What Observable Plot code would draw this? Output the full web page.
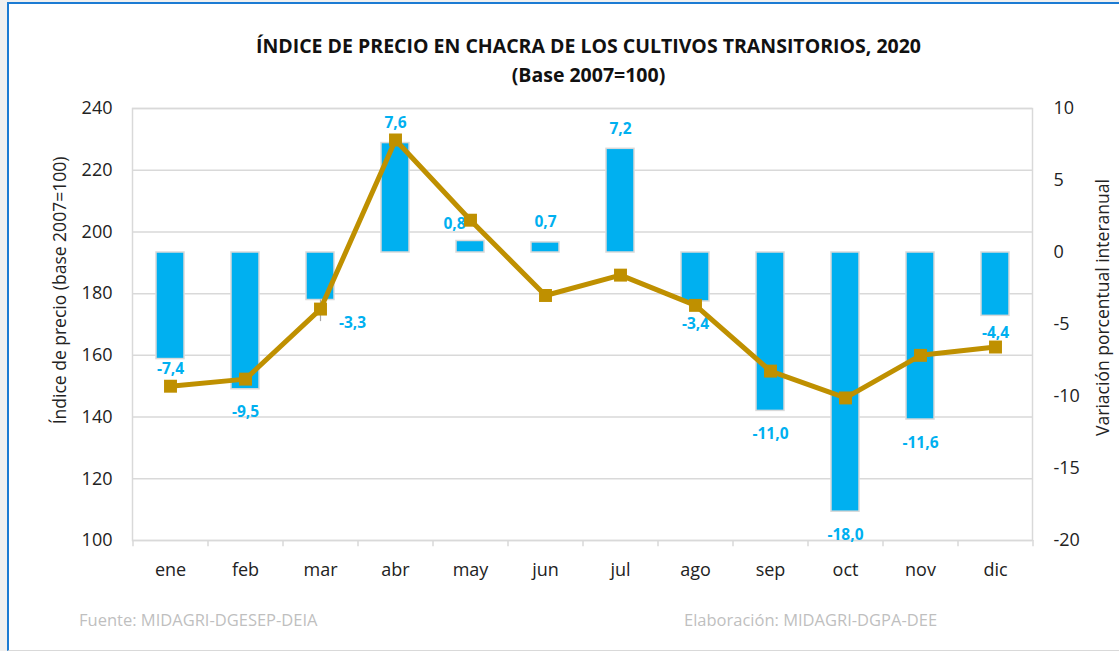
<!DOCTYPE html>
<html>
<head>
<meta charset="utf-8">
<script src="https://cdn.jsdelivr.net/npm/d3@7"></script>
<script src="https://cdn.jsdelivr.net/npm/@observablehq/plot@0.6"></script>
<style>
  html, body { margin: 0; padding: 0; background: #f0f0f0; width: 1119px; height: 651px; overflow: hidden; font-family: "Open Sans", "Noto Sans", sans-serif; }
  #frame { position: absolute; left: 7px; top: 2px; width: 1110px; height: 646px; background: #fff;
           border-top: 2px solid #1c7bd3; border-left: 2px solid #1c7bd3; border-bottom: 1px solid #d9d9d9; }
  #title { position: absolute; left: 0; width: 1177px; top: 31px; text-align: center; font-weight: 700; font-size: 19.5px; line-height: 29px; color: #111; }
  #chart { position: absolute; left: 0; top: 90px; }
  .foot { position: absolute; top: 608px; font-size: 16.5px; color: #bfbfbf; }
</style>
</head>
<body>
<div id="frame"></div>
<div id="title">ÍNDICE DE PRECIO EN CHACRA DE LOS CULTIVOS TRANSITORIOS, 2020<br>(Base 2007=100)</div>
<div id="chart"></div>
<div class="foot" style="left:79px">Fuente: MIDAGRI-DGESEP-DEIA</div>
<div class="foot" style="left:684px">Elaboración: MIDAGRI-DGPA-DEE</div>
<script>
const months = ["ene","feb","mar","abr","may","jun","jul","ago","sep","oct","nov","dic"];
const indice = [150.0, 152.3, 175.0, 229.8, 203.8, 179.4, 186.0, 176.2, 154.9, 146.2, 160.0, 162.7];
const variacion = [-7.4, -9.5, -3.3, 7.6, 0.8, 0.7, 7.2, -3.4, -11.0, -18.0, -11.6, -4.4];
const leftTicks = [100, 120, 140, 160, 180, 200, 220, 240];
const rightTicks = [-20, -15, -10, -5, 0, 5, 10];
const leftTitle = "Índice de precio (base 2007=100)";
const rightTitle = "Variación porcentual interanual";

// map right-axis values (variation) onto the left-axis domain
const L0 = 100, L1 = 240, R0 = -20, R1 = 10;
const conv = v => L0 + (v - R0) * (L1 - L0) / (R1 - R0);
const inv = y => (Math.round((y - L0) * (R1 - R0) / (L1 - L0) + R0) || 0);

const data = months.map((m, i) => ({month: m, indice: indice[i], variacion: variacion[i]}));
const fmt = v => v.toFixed(1).replace(".", ",");
const special = ["ene", "mar", "may", "dic"];
const pos = data.filter(d => d.variacion >= 0 && !special.includes(d.month));
const neg = data.filter(d => d.variacion < 0 && !special.includes(d.month));
const pick = m => data.filter(d => d.month === m);

const blue = "#00B0F0", gold = "#BF9000", grid = "#d9d9d9";
const fam = '"Open Sans", "Noto Sans", sans-serif';
const lbl = (rows, dx, dy) => Plot.text(rows, {x: "month", y: d => conv(d.variacion), text: d => fmt(d.variacion), dx, dy, fill: blue, fontWeight: "bold", fontSize: 15.5});

const chart = Plot.plot({
  width: 1119,
  height: 520,
  marginLeft: 132,
  marginRight: 87,
  marginTop: 18,
  marginBottom: 70,
  style: {fontFamily: fam, background: "transparent"},
  x: {domain: months, paddingInner: 0.627, paddingOuter: 0.3135},
  y: {domain: [L0, L1]},
  marks: [
    Plot.gridY(leftTicks, {stroke: grid, strokeOpacity: 1, strokeWidth: 1.5}),
    Plot.frame({stroke: grid, strokeWidth: 1.5}),
    Plot.ruleX(months, {x: d => d, y1: L0, y2: L0 - 2, dx: -37.5, stroke: grid, strokeWidth: 1.5}),
    Plot.ruleX(["dic"], {x: d => d, y1: L0, y2: L0 - 2, dx: 37.5, stroke: grid, strokeWidth: 1.5}),
    Plot.axisY(leftTicks, {anchor: "left", tickSize: 0, tickPadding: 20, fontSize: 18, fill: "#222", label: null}),
    Plot.axisY(rightTicks.map(conv), {anchor: "right", tickSize: 0, tickPadding: 21, fontSize: 18, fill: "#222", tickFormat: inv, label: null}),
    Plot.axisX({tickSize: 0, tickPadding: 23, fontSize: 18, fill: "#222", label: null}),
    Plot.text([leftTitle], {frameAnchor: "left", textAnchor: "middle", dx: -72, dy: -34, rotate: -90, fontSize: 17.5, fill: "#222"}),
    Plot.text([rightTitle], {frameAnchor: "right", textAnchor: "middle", dx: 71, dy: -17, rotate: -90, fontSize: 17.5, fill: "#222"}),
    Plot.barY(data, {x: "month", y1: () => conv(0), y2: d => conv(d.variacion), fill: blue, stroke: grid, strokeWidth: 1.5}),
    // leader line for the displaced "mar" label
    Plot.ruleX(pick("mar"), {x: "month", y1: d => conv(d.variacion), y2: d => conv(d.variacion) - 7, stroke: "#a6a6a6", strokeWidth: 1.2}),
    lbl(pos, 0, -20),
    lbl(neg, 0, 23),
    lbl(pick("ene"), 0, 10),
    lbl(pick("mar"), 32, 23),
    lbl(pick("may"), -16, -17),
    lbl(pick("dic"), 0, 17),
    Plot.line(data, {x: "month", y: "indice", stroke: gold, strokeWidth: 5}),
    Plot.dot(data, {x: "month", y: "indice", symbol: "square", r: 7.3, fill: gold, stroke: "none"})
  ]
});
document.getElementById("chart").appendChild(chart);
</script>
</body>
</html>
